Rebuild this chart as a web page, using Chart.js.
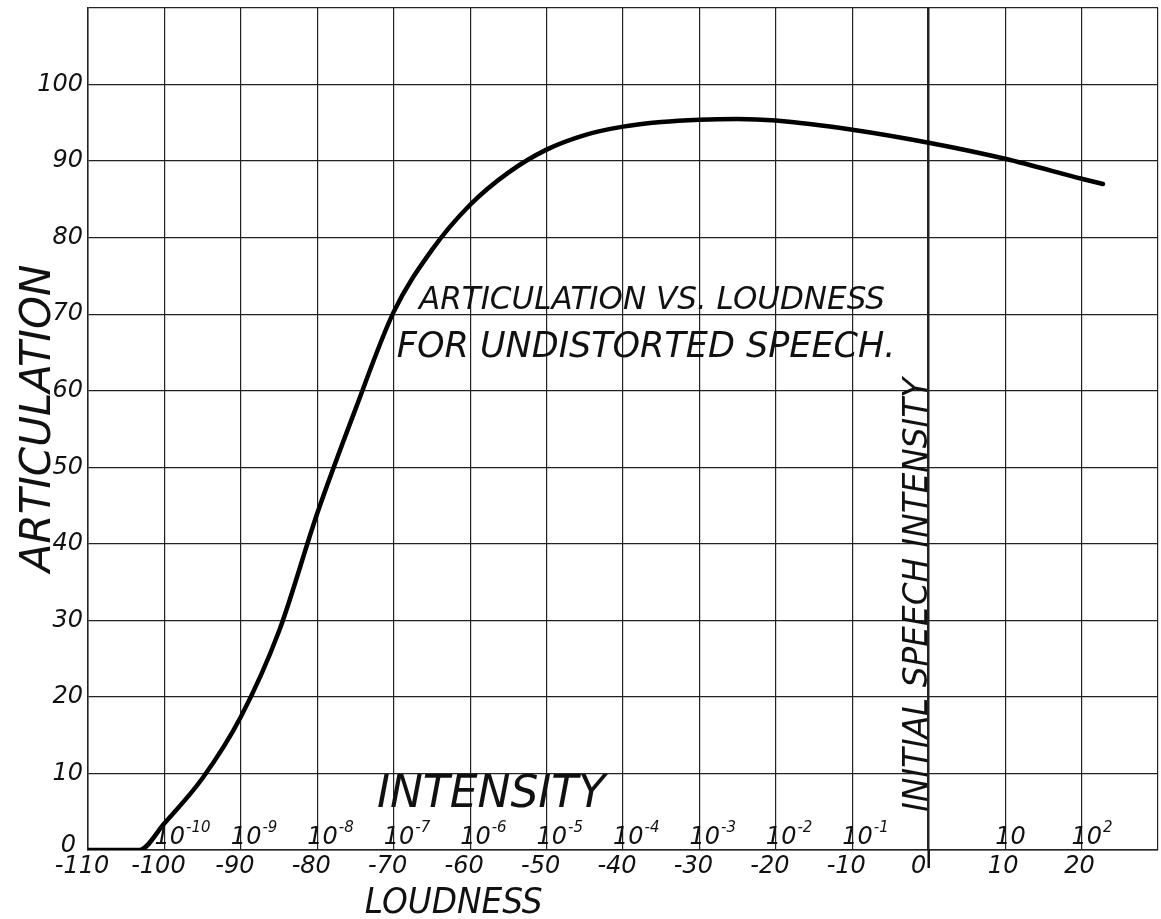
<!DOCTYPE html>
<html>
<head>
<meta charset="utf-8">
<script src="https://cdn.jsdelivr.net/npm/chart.js@4"></script>
<style>
  html, body { margin: 0; padding: 0; background: #fff; }
  #wrap { width: 1161px; height: 919px; position: relative; }
</style>
</head>
<body>
<div id="wrap"><canvas id="chart"></canvas></div>
<script>
// curve: loudness (db) vs articulation (%)
const loudness = [-110, -103.3, -100, -95, -90, -85, -80, -75, -70, -65, -60, -55, -50, -45, -40, -35, -30, -25, -20, -10, 0, 10, 20, 22.8];
const articulation = [0, 0, 3.5, 9.4, 17.4, 28.6, 44, 57.6, 70.3, 78.4, 84.3, 88.5, 91.5, 93.4, 94.5, 95.1, 95.4, 95.5, 95.3, 94.1, 92.4, 90.3, 87.7, 87.0];

const yTicks = [0, 10, 20, 30, 40, 50, 60, 70, 80, 90, 100];
const xTicks = [-110, -100, -90, -80, -70, -60, -50, -40, -30, -20, -10, 0, 10, 20];
const intensityAt = [-100, -90, -80, -70, -60, -50, -40, -30, -20, -10, 10, 20];
const intensityExp = ['-10', '-9', '-8', '-7', '-6', '-5', '-4', '-3', '-2', '-1', '', '2'];

const FONT = '"DejaVu Sans", sans-serif';

const handLabels = {
  id: 'handLabels',
  afterDraw(chart) {
    const { ctx, chartArea: a, scales: { x, y } } = chart;
    ctx.save();
    ctx.fillStyle = '#111';

    // zero line runs a little below the axis
    ctx.strokeStyle = '#111';
    ctx.lineWidth = 2.5;
    ctx.beginPath();
    ctx.moveTo(x.getPixelForValue(0), a.bottom);
    ctx.lineTo(x.getPixelForValue(0), a.bottom + 18);
    ctx.stroke();

    // y tick labels
    ctx.font = 'italic 24px ' + FONT;
    ctx.textAlign = 'right';
    ctx.textBaseline = 'middle';
    yTicks.forEach(v => {
      const off = v === 0 ? 12 : 5;
      ctx.fillText(String(v), a.left - off, y.getPixelForValue(v) + (v === 0 ? -4 : 0));
    });

    // x tick labels (loudness)
    ctx.textAlign = 'center';
    ctx.textBaseline = 'top';
    xTicks.forEach(v => {
      const off = v === 0 ? -10 : (v > 0 ? -2 : -6);
      ctx.fillText(String(v), x.getPixelForValue(v) + off, a.bottom + 5);
    });

    // intensity labels above the axis
    ctx.textAlign = 'left';
    ctx.textBaseline = 'alphabetic';
    intensityAt.forEach((v, i) => {
      const px = x.getPixelForValue(v) - 10;
      const py = a.bottom - 6;
      ctx.font = 'italic 24px ' + FONT;
      ctx.fillText('10', px, py);
      const w = ctx.measureText('10').width;
      if (intensityExp[i]) {
        ctx.font = 'italic 15px ' + FONT;
        ctx.fillText(intensityExp[i], px + w + 1, py - 12);
      }
    });

    // title
    ctx.font = 'italic 32px ' + FONT;
    ctx.fillText('ARTICULATION VS. LOUDNESS', x.getPixelForValue(-66.7), y.getPixelForValue(70.7), 466);
    ctx.font = 'italic 35px ' + FONT;
    ctx.fillText('FOR UNDISTORTED SPEECH.', x.getPixelForValue(-69.6), y.getPixelForValue(64.4), 506);

    // axis names
    ctx.font = 'italic 44px ' + FONT;
    ctx.fillText('INTENSITY', x.getPixelForValue(-72.2), y.getPixelForValue(5.6), 230);
    ctx.font = 'italic 36px ' + FONT;
    ctx.fillText('LOUDNESS', x.getPixelForValue(-73.8), a.bottom + 63, 178);

    ctx.save();
    ctx.translate(a.left - 38, y.getPixelForValue(36.3));
    ctx.rotate(-Math.PI / 2);
    ctx.font = 'italic 42px ' + FONT;
    ctx.fillText('ARTICULATION', 0, 0, 310);
    ctx.restore();

    ctx.save();
    ctx.translate(x.getPixelForValue(0) - 2, y.getPixelForValue(5));
    ctx.rotate(-Math.PI / 2);
    ctx.font = 'italic 33px ' + FONT;
    ctx.fillText('INITIAL SPEECH INTENSITY', 0, 0, 434);
    ctx.restore();

    ctx.restore();
  }
};

new Chart(document.getElementById('chart'), {
  type: 'line',
  data: {
    datasets: [{
      label: 'Articulation',
      data: loudness.map((v, i) => ({ x: v, y: articulation[i] })),
      borderColor: '#000',
      borderWidth: 4.5,
      borderCapStyle: 'round',
      pointRadius: 0,
      fill: false,
      cubicInterpolationMode: 'monotone'
    }]
  },
  options: {
    responsive: true,
    maintainAspectRatio: false,
    animation: false,
    layout: { padding: { left: 88, top: 8, right: 3, bottom: 69 } },
    plugins: { legend: { display: false }, tooltip: { enabled: false } },
    scales: {
      x: {
        type: 'linear', min: -110, max: 30,
        ticks: { display: false, stepSize: 10 },
        grid: {
          color: '#222',
          lineWidth: c => (c.tick && c.tick.value === 0 ? 2.5 : 1.2),
          drawTicks: false
        },
        border: { color: '#222', width: 1.5 }
      },
      y: {
        min: 0, max: 110,
        ticks: { display: false, stepSize: 10 },
        grid: { color: '#222', lineWidth: 1.2, drawTicks: false },
        border: { color: '#222', width: 1.5 }
      }
    }
  },
  plugins: [handLabels]
});
</script>
</body>
</html>
